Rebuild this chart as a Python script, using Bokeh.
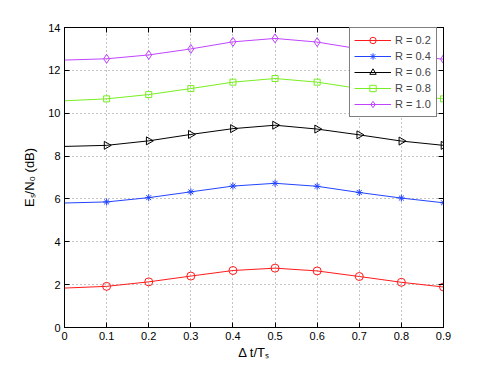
import numpy as np
from bokeh.plotting import figure
from bokeh.models import (LinearAxis, FixedTicker, Legend, LegendItem,
                          ColumnDataSource, Range1d)
from bokeh.embed import file_html
from bokeh.resources import INLINE

# ---- data ----
dt = [0.0, 0.1, 0.2, 0.3, 0.4, 0.5, 0.6, 0.7, 0.8, 0.9]
r02 = [1.84, 1.92, 2.13, 2.40, 2.66, 2.77, 2.64, 2.38, 2.11, 1.89]
r04 = [5.81, 5.86, 6.06, 6.33, 6.60, 6.73, 6.59, 6.30, 6.04, 5.82]
r06 = [8.45, 8.50, 8.71, 9.01, 9.28, 9.44, 9.26, 8.99, 8.70, 8.50]
r08 = [10.58, 10.67, 10.87, 11.15, 11.45, 11.62, 11.45, 11.15, 10.87, 10.67]
r10 = [12.48, 12.54, 12.72, 13.00, 13.33, 13.49, 13.32, 13.00, 12.72, 12.52]
series_names = ["R = 0.2", "R = 0.4", "R = 0.6", "R = 0.8", "R = 1.0"]
xticks = [0.0, 0.1, 0.2, 0.3, 0.4, 0.5, 0.6, 0.7, 0.8, 0.9]
xtick_labels = ["0", "0.1", "0.2", "0.3", "0.4", "0.5", "0.6", "0.7", "0.8", "0.9"]
yticks = [0, 2, 4, 6, 8, 10, 12, 14]
x_title = "\u0394 t/T\u209B"
y_title = "E\u209B/N\u2080 (dB)"

FONT = "Liberation Sans"

p = figure(width=491, height=369, output_backend="svg", toolbar_location=None,
           x_range=Range1d(0, 0.9), y_range=Range1d(0, 14),
           min_border_left=64, min_border_right=48, min_border_top=27,
           min_border_bottom=42)
p.background_fill_color = "white"
p.border_fill_color = "white"
p.outline_line_color = "black"
p.outline_line_width = 1

xt = FixedTicker(ticks=xticks)
yt = FixedTicker(ticks=yticks)
overrides = {x: lab for x, lab in zip(xticks, xtick_labels)}

for ax in p.xaxis:
    ax.ticker = xt
    ax.major_label_overrides = overrides
    ax.axis_label = x_title
    ax.axis_label_standoff = 2
for ax in p.yaxis:
    ax.ticker = yt
    ax.axis_label = y_title
    ax.axis_label_standoff = 8

for ax in list(p.xaxis) + list(p.yaxis):
    ax.major_tick_in = 5
    ax.major_tick_out = 0
    ax.minor_tick_line_color = None
    ax.axis_line_color = "black"
    ax.major_tick_line_color = "black"
    ax.major_label_text_font = FONT
    ax.major_label_text_font_size = "11px"
    ax.major_label_text_color = "black"
    ax.major_label_standoff = 4
    ax.axis_label_text_font = FONT
    ax.axis_label_text_font_size = "13px"
    ax.axis_label_text_font_style = "normal"
    ax.axis_label_text_color = "black"

top = LinearAxis(ticker=xt, major_tick_in=5, major_tick_out=0,
                 minor_tick_line_color=None, major_label_text_color=None,
                 axis_line_color="black")
right = LinearAxis(ticker=yt, major_tick_in=5, major_tick_out=0,
                   minor_tick_line_color=None, major_label_text_color=None,
                   axis_line_color="black")
p.add_layout(top, "above")
p.add_layout(right, "right")

p.xgrid.ticker = xt
p.ygrid.ticker = yt
for g in (p.xgrid, p.ygrid):
    g.grid_line_color = "#8a8a8a"
    g.grid_line_dash = "1 3"
    g.grid_line_width = 1

colors = ["#ff1a1a", "#2244ff", "#000000", "#77ee22", "#c044ff"]
markers = ["circle", "asterisk", "triangle", "square", "diamond"]
sizes = [8, 7, 8, 6, 9]
angles = [0, 0, -np.pi / 2, 0, 0]
all_series = [r02, r04, r06, r08, r10]

items = []
for name, ys, c, m, s, a in zip(series_names, all_series, colors, markers, sizes, angles):
    src = ColumnDataSource(dict(x=dt, y=ys))
    msrc = ColumnDataSource(dict(x=dt[1:], y=ys[1:]))
    lr = p.line("x", "y", source=src, line_color=c, line_width=1)
    mr = p.scatter("x", "y", source=msrc, marker=m, size=s, angle=a,
                   line_color=c, fill_color=None, line_width=1)
    items.append(LegendItem(label=name, renderers=[lr, mr]))

legend = Legend(items=items, location=(285, 210), margin=0, padding=4,
                spacing=0, glyph_width=37, glyph_height=16, label_height=16,
                label_width=37, label_standoff=4,
                label_text_font=FONT, label_text_font_size="11px",
                border_line_color="black", border_line_width=1,
                background_fill_color="white", background_fill_alpha=1)
p.add_layout(legend)

open("out.html", "w").write(file_html(p, INLINE))
